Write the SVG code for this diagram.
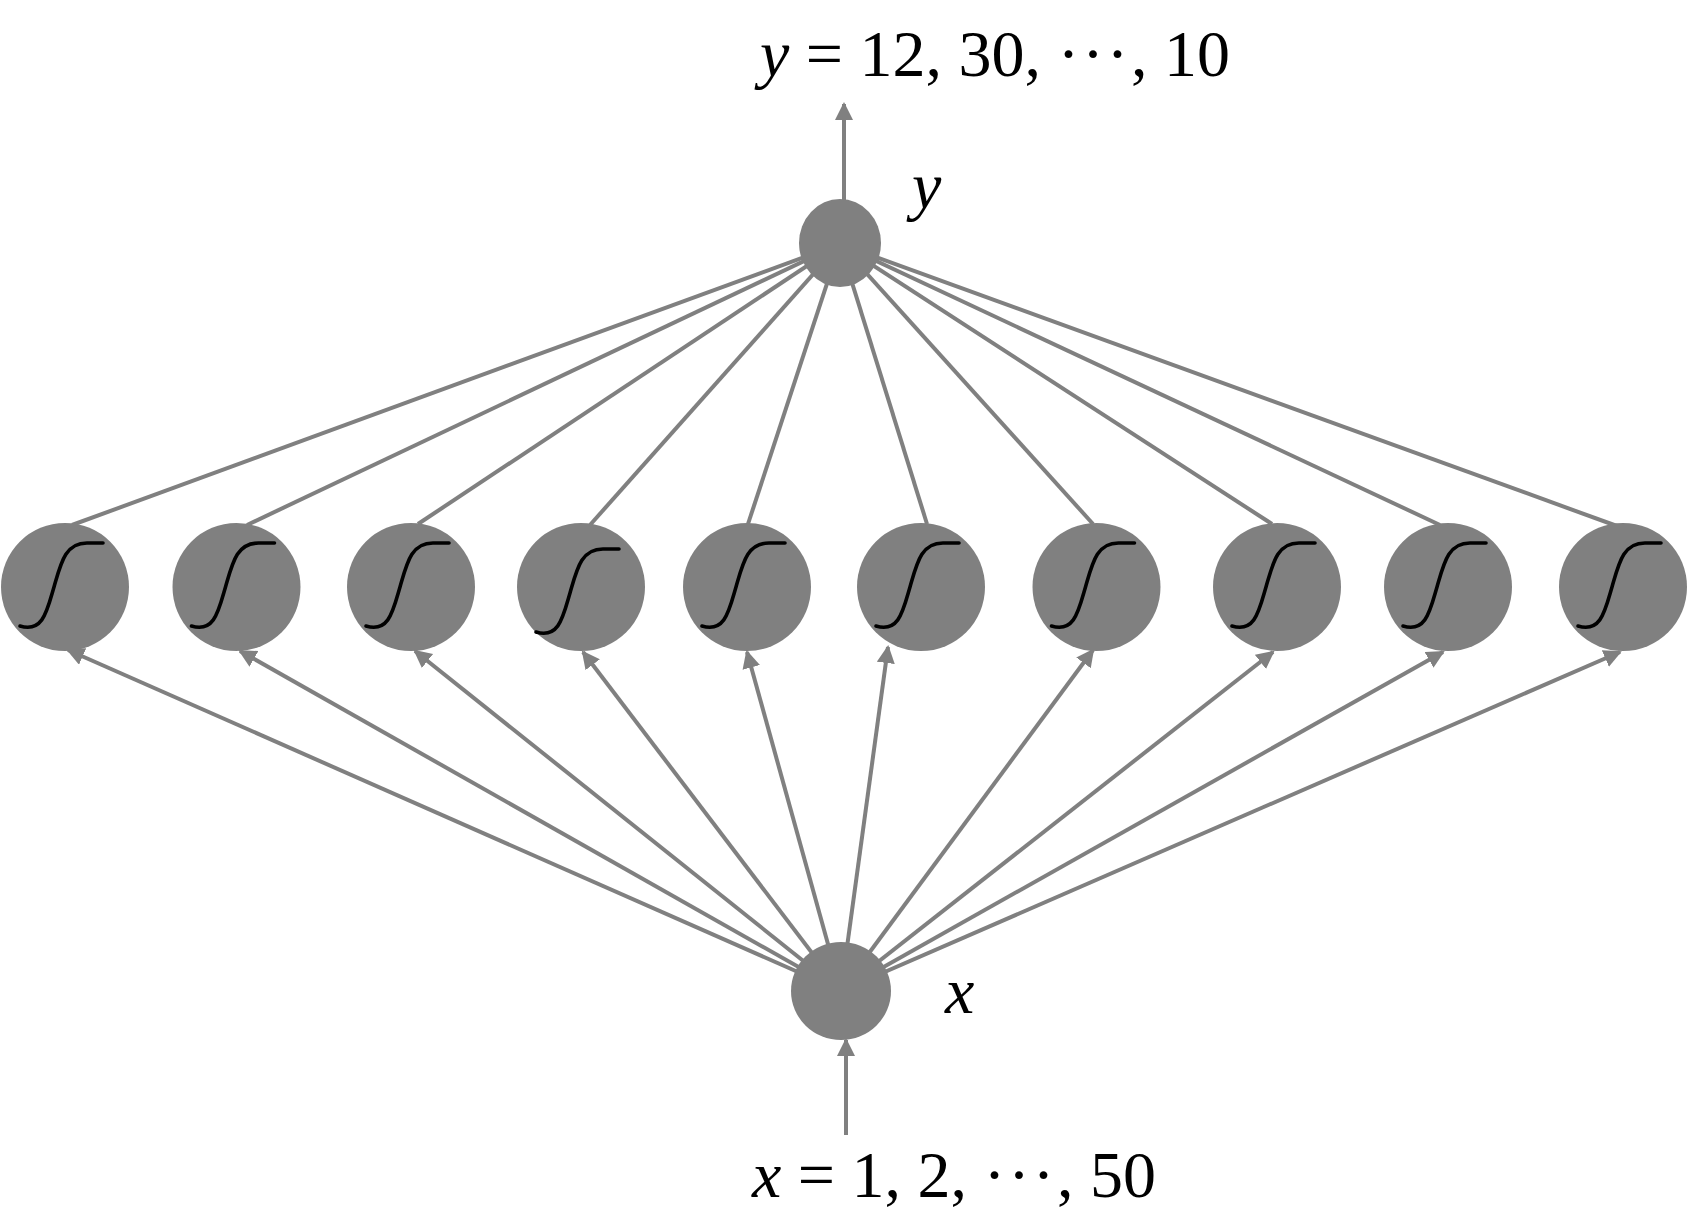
<svg xmlns="http://www.w3.org/2000/svg" xmlns:xlink="http://www.w3.org/1999/xlink" width="1687" height="1218" viewBox="0 0 1687 1218">
<style>
.node{fill:#808080;}
.conn{stroke:#808080;stroke-width:4;fill:none;}
.arr{stroke:#808080;stroke-width:4;fill:none;marker-end:url(#ah);}
.sig{stroke:#000;stroke-width:3.6;fill:none;stroke-linecap:round;}
.t{font-family:"Liberation Serif","Times New Roman",serif;font-size:66px;fill:#000;}
.i{font-style:italic;}
.dots{letter-spacing:2.5px;}
</style>
<defs>
<marker id="ah" markerUnits="userSpaceOnUse" markerWidth="20" markerHeight="20" refX="16" refY="9" orient="auto">
<path d="M0,0 L18,9 L0,18 z" fill="#808080"/>
</marker>
<path id="sig" class="sig" d="M-45,39 C-22,46 -18,24 -11,0 C-4,-24 0,-44 22,-44 L38,-44"/>
</defs>
<rect width="1687" height="1218" fill="#fff"/>
<g id="connectors">
<line class="arr" x1="844" y1="200" x2="844" y2="104"/>
<line class="arr" x1="846" y1="1135" x2="846" y2="1040"/>
<line class="conn" x1="840" y1="244" x2="72" y2="525"/>
<line class="conn" x1="840" y1="244" x2="247" y2="525"/>
<line class="conn" x1="840" y1="244" x2="418" y2="524"/>
<line class="conn" x1="840" y1="244" x2="590" y2="525"/>
<line class="conn" x1="840" y1="244" x2="748" y2="524"/>
<line class="conn" x1="840" y1="244" x2="927" y2="524"/>
<line class="conn" x1="840" y1="244" x2="1093" y2="524"/>
<line class="conn" x1="840" y1="244" x2="1272" y2="524"/>
<line class="conn" x1="840" y1="244" x2="1440" y2="525"/>
<line class="conn" x1="840" y1="244" x2="1617" y2="526"/>
<line class="arr" x1="841" y1="991" x2="68" y2="650"/>
<line class="arr" x1="841" y1="991" x2="240" y2="651"/>
<line class="arr" x1="841" y1="991" x2="415" y2="651"/>
<line class="arr" x1="841" y1="991" x2="583" y2="652"/>
<line class="arr" x1="841" y1="991" x2="747" y2="652"/>
<line class="arr" x1="841" y1="991" x2="888" y2="647"/>
<line class="arr" x1="841" y1="991" x2="1093" y2="650"/>
<line class="arr" x1="841" y1="991" x2="1273" y2="652"/>
<line class="arr" x1="841" y1="991" x2="1443" y2="652"/>
<line class="arr" x1="841" y1="991" x2="1620" y2="652"/>
</g>
<g id="node-y">
<ellipse class="node" cx="840" cy="243" rx="41" ry="44"/>
<text class="t i" x="912" y="208">y</text>
</g>
<g id="node-x">
<ellipse class="node" cx="841" cy="991" rx="50" ry="49"/>
<text class="t i" x="945" y="1013">x</text>
</g>
<g id="h1"><circle class="node" cx="65" cy="587" r="64"/><use xlink:href="#sig" x="65" y="587"/></g>
<g id="h2"><circle class="node" cx="236.5" cy="587" r="64"/><use xlink:href="#sig" x="236.5" y="587"/></g>
<g id="h3"><circle class="node" cx="411" cy="587" r="64"/><use xlink:href="#sig" x="411" y="587"/></g>
<g id="h4"><circle class="node" cx="581" cy="587" r="64"/><use xlink:href="#sig" x="581" y="593"/></g>
<g id="h5"><circle class="node" cx="747" cy="587" r="64"/><use xlink:href="#sig" x="747" y="587"/></g>
<g id="h6"><circle class="node" cx="921" cy="587" r="64"/><use xlink:href="#sig" x="921" y="587"/></g>
<g id="h7"><circle class="node" cx="1096.5" cy="587" r="64"/><use xlink:href="#sig" x="1096.5" y="587"/></g>
<g id="h8"><circle class="node" cx="1277" cy="587" r="64"/><use xlink:href="#sig" x="1277" y="587"/></g>
<g id="h9"><circle class="node" cx="1448" cy="587" r="64"/><use xlink:href="#sig" x="1448" y="587"/></g>
<g id="h10"><circle class="node" cx="1623" cy="587" r="64"/><use xlink:href="#sig" x="1623" y="587"/></g>
<g id="output-label">
<text class="t" x="760" y="76"><tspan class="i">y</tspan> = 12, 30, <tspan class="dots">···</tspan>, 10</text>
</g>
<g id="input-label">
<text class="t" x="752" y="1197"><tspan class="i">x</tspan> = 1, 2, <tspan class="dots">···</tspan>, 50</text>
</g>
</svg>
